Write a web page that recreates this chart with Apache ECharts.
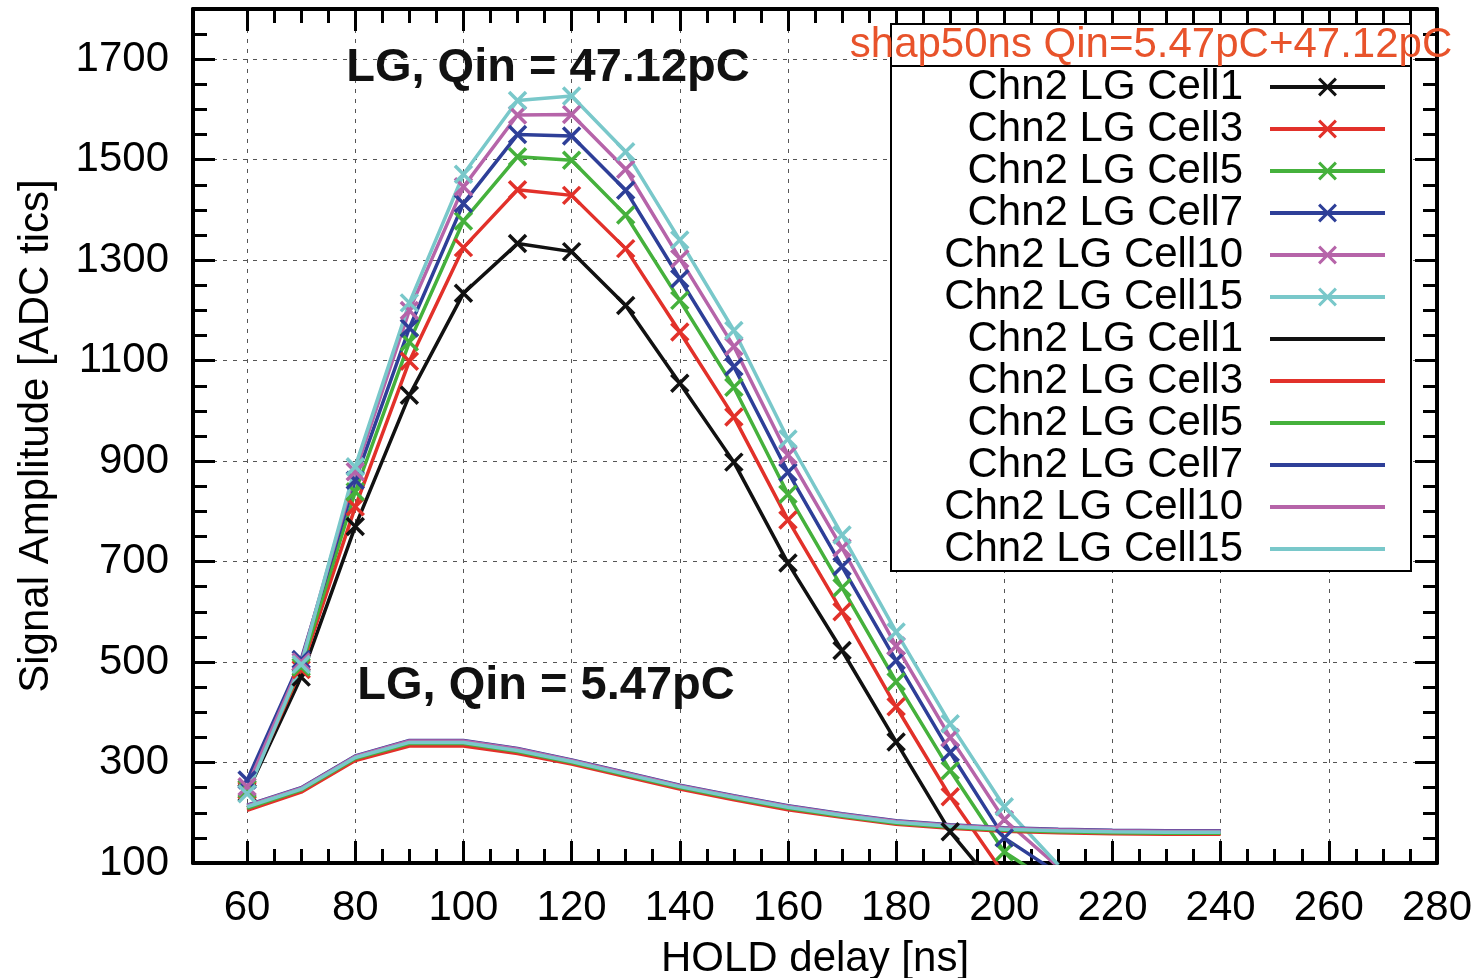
<!DOCTYPE html>
<html>
<head>
<meta charset="utf-8">
<title>HOLD delay scan</title>
<script src="https://cdn.jsdelivr.net/npm/echarts@6/dist/echarts.min.js"></script>
<style>
  html, body { margin: 0; padding: 0; background: #fff; }
  #main { width: 1482px; height: 978px; }
</style>
</head>
<body>
<div id="main"></div>
<script>
// HOLD delay points [ns]
const holdHigh = [60, 70, 80, 90, 100, 110, 120, 130, 140, 150, 160, 170, 180, 190, 200, 210];
const holdLow = [60, 70, 80, 90, 100, 110, 120, 130, 140, 150, 160, 170, 180, 190, 200, 210, 220, 230, 240];

const cellNames = ["Chn2 LG Cell1", "Chn2 LG Cell3", "Chn2 LG Cell5", "Chn2 LG Cell7", "Chn2 LG Cell10", "Chn2 LG Cell15"];
const cellColors = ["#111111", "#e2312a", "#45b13c", "#2e3f98", "#b664a9", "#79c8ca"];

// Qin = 47.12pC (with markers), values below 100 run off the frame
const highCell1  = [240, 470, 770, 1031, 1234, 1333, 1317, 1210, 1055, 898, 697, 523, 341, 162, 32, null];
const highCell3  = [245, 485, 809, 1099, 1325, 1440, 1429, 1323, 1157, 988, 783, 600, 411, 232, 77, null];
const highCell5  = [248, 490, 839, 1137, 1378, 1506, 1499, 1390, 1220, 1047, 834, 648, 461, 284, 122, 52];
const highCell7  = [265, 505, 862, 1165, 1413, 1550, 1547, 1439, 1263, 1088, 878, 690, 503, 320, 150, 79];
const highCell10 = [252, 500, 879, 1200, 1446, 1589, 1590, 1481, 1303, 1128, 912, 727, 532, 350, 186, 92];
const highCell15 = [238, 495, 889, 1215, 1471, 1618, 1627, 1516, 1340, 1160, 944, 753, 560, 377, 212, 96];

// Qin = 5.47pC (lines only)
const lowCell1  = [210, 246, 309, 339, 339, 323, 301, 276, 251, 230, 210, 194, 180, 172, 166, 163, 161, 160, 160];
const lowCell3  = [205, 241, 304, 333, 333, 318, 297, 272, 247, 226, 206, 191, 177, 169, 163, 160, 158, 157, 157];
const lowCell5  = [209, 245, 308, 338, 338, 322, 300, 275, 250, 229, 209, 193, 179, 171, 165, 162, 160, 159, 159];
const lowCell7  = [215, 250, 313, 344, 344, 328, 305, 280, 255, 234, 214, 198, 184, 176, 170, 167, 165, 164, 164];
const lowCell10 = [214, 249, 312, 343, 343, 327, 304, 279, 254, 233, 213, 197, 183, 175, 169, 166, 164, 163, 163];
const lowCell15 = [212, 247, 310, 340, 340, 324, 302, 277, 252, 231, 211, 195, 181, 173, 167, 164, 162, 161, 161];

const highData = [highCell1, highCell3, highCell5, highCell7, highCell10, highCell15];
const lowData = [lowCell1, lowCell3, lowCell5, lowCell7, lowCell10, lowCell15];

// tick labels
const xTicks = [60, 80, 100, 120, 140, 160, 180, 200, 220, 240, 260, 280];
const yTicks = [100, 300, 500, 700, 900, 1100, 1300, 1500, 1700];

const FONT = '"Liberation Sans", Arial, Helvetica, sans-serif';
const CROSS = 'path://M0,0L18,18M18,0L0,18';
const ZWSP = '\u200b'; // keeps the second legend block apart from the first

function minorTicks(from, to, step, majors) {
  const out = [];
  for (let v = from; v <= to; v += step) {
    if (majors.indexOf(v) < 0) out.push(v);
  }
  return out;
}
const xMinor = minorTicks(65, 275, 5, xTicks);
const yMinor = minorTicks(150, 1750, 50, yTicks);

function pairs(xs, ys) {
  return xs.map((x, i) => [x, ys[i]]);
}

function makeXAxis(position, values, len, withLine, withLabel) {
  return {
    type: 'value', position: position, min: 50, max: 280, splitNumber: 12,
    axisLine: { show: withLine, onZero: false, lineStyle: { color: '#000', width: 4 } },
    axisTick: { show: true, inside: true, length: len, customValues: values, lineStyle: { color: '#000', width: 3 } },
    axisLabel: { show: withLabel, customValues: values, margin: 24, fontSize: 42, color: '#000', fontFamily: FONT,
      formatter: v => String(v) },
    splitLine: { show: false },
    minorTick: { show: false }
  };
}

function makeYAxis(position, values, len, withLine, withLabel) {
  return {
    type: 'value', position: position, min: 100, max: 1800,
    axisLine: { show: withLine, onZero: false, lineStyle: { color: '#000', width: 4 } },
    axisTick: { show: true, inside: true, length: len, customValues: values, lineStyle: { color: '#000', width: 3 } },
    axisLabel: { show: withLabel, customValues: values, margin: 24, fontSize: 42, color: '#000', fontFamily: FONT,
      formatter: v => String(v) },
    splitLine: { show: false },
    minorTick: { show: false }
  };
}

const gridLine = { show: true, lineStyle: { color: '#555', width: 1, type: [4, 6] } };

const xAxes = [
  makeXAxis('bottom', xTicks, 22, true, true),
  makeXAxis('bottom', xMinor, 14, false, false),
  makeXAxis('top', xTicks, 22, true, false),
  makeXAxis('top', xMinor, 14, false, false)
];
xAxes[0].splitLine = gridLine;
xAxes[0].name = 'HOLD delay [ns]';
xAxes[0].nameLocation = 'middle';
xAxes[0].nameGap = 75;
xAxes[0].nameTextStyle = { fontSize: 42, color: '#000', fontFamily: FONT };

const yAxes = [
  makeYAxis('left', yTicks, 22, true, true),
  makeYAxis('left', yMinor, 14, false, false),
  makeYAxis('right', yTicks, 22, true, false),
  makeYAxis('right', yMinor, 14, false, false)
];
yAxes[0].splitLine = gridLine;
yAxes[0].name = 'Signal Amplitude [ADC tics]';
yAxes[0].nameLocation = 'middle';
yAxes[0].nameGap = 136;
yAxes[0].nameTextStyle = { fontSize: 42, color: '#000', fontFamily: FONT };

const series = [];
const legendData = [];
cellNames.forEach((name, i) => {
  series.push({
    name: name, type: 'line', data: pairs(holdHigh, highData[i]),
    symbol: CROSS, symbolSize: 17, showAllSymbol: true,
    lineStyle: { color: cellColors[i], width: 3.5 },
    itemStyle: { color: cellColors[i], borderColor: cellColors[i], borderWidth: 3.5 },
    z: 2
  });
  legendData.push({ name: name,
    itemStyle: { color: cellColors[i], borderColor: cellColors[i], borderWidth: 3 },
    lineStyle: { color: cellColors[i], width: 4 } });
});
cellNames.forEach((name, i) => {
  series.push({
    name: name + ZWSP, type: 'line', data: pairs(holdLow, lowData[i]),
    symbol: 'none',
    lineStyle: { color: cellColors[i], width: 3.5 },
    itemStyle: { color: cellColors[i] },
    z: 2
  });
  legendData.push({ name: name + ZWSP, itemStyle: { opacity: 0 },
    lineStyle: { color: cellColors[i], width: 4 } });
});

const chart = echarts.init(document.getElementById('main'), null, { renderer: 'canvas' });

chart.setOption({
  animation: false,
  backgroundColor: '#fff',
  grid: { left: 193, right: 45, top: 9, bottom: 115, outerBoundsMode: 'none' },
  xAxis: xAxes,
  yAxis: yAxes,
  legend: {
    data: legendData,
    orient: 'vertical',
    align: 'right',
    right: 95,
    top: 66,
    padding: 0,
    itemGap: 0,
    itemWidth: 115,
    itemHeight: 21,
    selectedMode: false,
    z: 6,
    formatter: name => name.replace(ZWSP, ''),
    textStyle: { fontSize: 42, color: '#000', fontFamily: FONT, lineHeight: 42, padding: [0, 22, 0, 0] }
  },
  graphic: [
    { type: 'rect', z: 4, shape: { x: 891, y: 24, width: 520, height: 547 },
      style: { fill: '#fff', stroke: '#000', lineWidth: 2 } },
    { type: 'line', z: 4, shape: { x1: 891, y1: 66, x2: 1411, y2: 66 },
      style: { stroke: '#000', lineWidth: 2 } },
    { type: 'text', z: 6, x: 1151, y: 45,
      style: { text: 'shap50ns Qin=5.47pC+47.12pC', fontSize: 42, fontFamily: FONT, fill: '#e8532b', align: 'center', verticalAlign: 'middle' } },
    { type: 'text', z: 6, x: 548, y: 68,
      style: { text: 'LG, Qin = 47.12pC', fontSize: 47, fontWeight: 'bold', fontFamily: FONT, fill: '#111', align: 'center', verticalAlign: 'middle' } },
    { type: 'text', z: 6, x: 546, y: 686,
      style: { text: 'LG, Qin = 5.47pC', fontSize: 47, fontWeight: 'bold', fontFamily: FONT, fill: '#111', align: 'center', verticalAlign: 'middle' } }
  ],
  series: series
});
</script>
</body>
</html>
